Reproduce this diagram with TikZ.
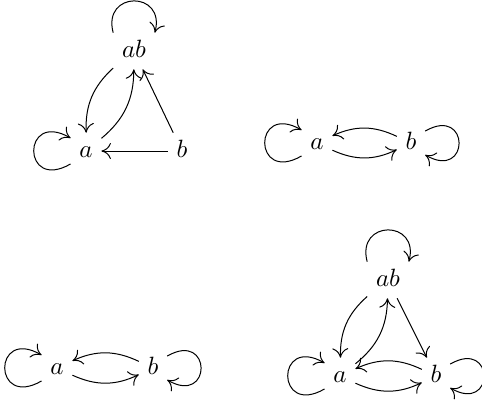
\documentclass[tikz,border=0pt]{standalone}
\usepackage{tikz}
\usetikzlibrary{arrows.meta,positioning}

\begin{document}
\begin{tikzpicture}[
    x=0.4pt, y=0.4pt,
    on grid,
    vertex/.style={text height=1.5ex, text depth=.25ex},
    arrow/.style={-{To[length=3.8pt,width=6.4pt]}},
    bendr/.style={bend right=25}
]
\useasboundingbox (0,0) rectangle (482,403);

\node[vertex] (a1) at (86,252) {$a$};
\node[vertex, right=38.4pt of a1] (b1) {$b$};
\node[vertex, above right=40pt and 19.2pt of a1] (ab1) {$ab$};

\draw[arrow] (ab1.north west) to[out=105, in=75, looseness=2.7] (ab1.north east);
\draw[arrow] (a1.220) to[out=210, in=150, looseness=5.6] (a1.140);
\draw[arrow] (ab1) to[bendr] (a1);
\draw[arrow] (a1) to[bendr] (ab1);
\draw[arrow] (b1) -- (ab1);
\draw[arrow] (b1) -- (a1);

\node[vertex] (a2) at (317,260) {$a$};
\node[vertex, right=37.6pt of a2] (b2) {$b$};

\draw[arrow] (a2.220) to[out=210, in=150, looseness=5.6] (a2.140);
\draw[arrow] (b2.40) to[out=30, in=-30, looseness=5.6] (b2.-40);
\draw[arrow] (a2) to[bendr] (b2);
\draw[arrow] (b2) to[bendr] (a2);

\node[vertex] (a3) at (57,35) {$a$};
\node[vertex, right=38.4pt of a3] (b3) {$b$};

\draw[arrow] (a3.220) to[out=210, in=150, looseness=5.6] (a3.140);
\draw[arrow] (b3.40) to[out=30, in=-30, looseness=5.6] (b3.-40);
\draw[arrow] (a3) to[bendr] (b3);
\draw[arrow] (b3) to[bendr] (a3);

\node[vertex] (a4) at (340,27) {$a$};
\node[vertex, right=38.4pt of a4] (b4) {$b$};
\node[vertex, above right=38.4pt and 19.2pt of a4] (ab4) {$ab$};

\draw[arrow] (ab4.north west) to[out=105, in=75, looseness=2.7] (ab4.north east);
\draw[arrow] (a4.220) to[out=210, in=150, looseness=5.6] (a4.140);
\draw[arrow] (b4.40) to[out=30, in=-30, looseness=5.6] (b4.-40);
\draw[arrow] (ab4) to[bendr] (a4);
\draw[arrow] (a4) to[bendr] (ab4);
\draw[arrow] (ab4) -- (b4);
\draw[arrow] (a4) to[bendr] (b4);
\draw[arrow] (b4) to[bendr] (a4);

\end{tikzpicture}
\end{document}
